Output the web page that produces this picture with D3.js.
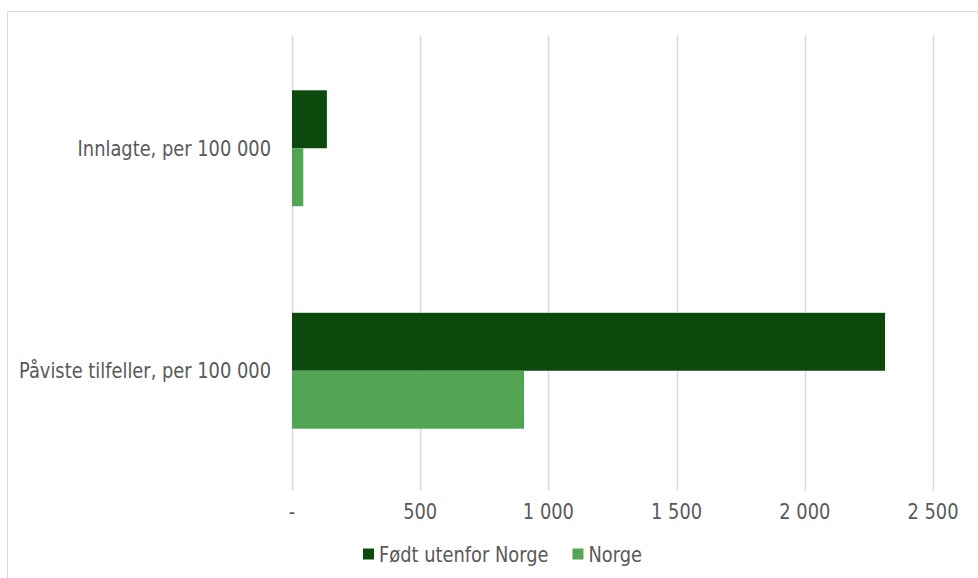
<!DOCTYPE html>
<html>
<head>
<meta charset="utf-8">
<script src="https://cdn.jsdelivr.net/npm/d3@7"></script>
<style>
  body { margin: 0; background: #fff; }
  text { font-family: "DejaVu Sans", Verdana, sans-serif; fill: #595959; }
</style>
</head>
<body>
<div id="chart"></div>
<script>
// Data ---------------------------------------------------------------------------------------
var categories = ["Innlagte, per 100 000", "Påviste tilfeller, per 100 000"];
var series = ["Født utenfor Norge", "Norge"];
var valuesUtenfor = [136, 2313];
var valuesNorge = [44, 905];
var tickValues = [0, 500, 1000, 1500, 2000, 2500];
var colors = ["#0b4a0c", "#52a552"];

// Chart --------------------------------------------------------------------------------------
var width = 978, height = 578;
var fontSize = 21, squeeze = 0.85;

var svg = d3.select("#chart").append("svg")
  .attr("width", width)
  .attr("height", height);

// outer frame of the chart area
svg.append("rect")
  .attr("x", 7.5).attr("y", 11.5)
  .attr("width", 990).attr("height", 600)
  .attr("fill", "none")
  .attr("stroke", "#d9d9d9")
  .attr("stroke-width", 1);

var x = d3.scaleLinear().domain([0, 2500]).range([292, 933]);
var y = d3.scaleBand().domain(categories).range([37, 482]);
var ySub = d3.scaleBand().domain(series).range([0, y.bandwidth()]).paddingOuter(0.92).paddingInner(0);

var fmt = d3.formatLocale({decimal: ",", thousands: " ", grouping: [3], currency: ["", ""]}).format(",");

// gridlines
svg.append("g").selectAll("line")
  .data(tickValues)
  .enter()
  .append("line")
    .attr("x1", function(d){ return Math.round(x(d)) + 0.5; })
    .attr("x2", function(d){ return Math.round(x(d)) + 0.5; })
    .attr("y1", 36)
    .attr("y2", 491)
    .attr("stroke", "#d9d9d9")
    .attr("stroke-width", 1.5);

// bars
var rows = categories.map(function(c, i){
  return [
    {cat: c, s: series[0], v: valuesUtenfor[i], col: colors[0]},
    {cat: c, s: series[1], v: valuesNorge[i], col: colors[1]}
  ];
});

svg.append("g").selectAll("g")
  .data(rows)
  .enter()
  .append("g")
  .attr("transform", function(d){ return "translate(0," + y(d[0].cat) + ")"; })
  .selectAll("rect")
  .data(function(d){ return d; })
  .enter()
  .append("rect")
    .attr("x", x(0))
    .attr("y", function(d){ return ySub(d.s); })
    .attr("width", function(d){ return x(d.v) - x(0); })
    .attr("height", ySub.bandwidth())
    .attr("fill", function(d){ return d.col; });

// squeezed text helper (the original font is narrow)
function label(g, tx, ty, anchor, str) {
  return g.append("text")
    .attr("transform", "translate(" + tx + "," + ty + ") scale(" + squeeze + ",1)")
    .attr("text-anchor", anchor)
    .attr("dy", "0.36em")
    .attr("font-size", fontSize + "px")
    .text(str);
}

// category labels
var catG = svg.append("g");
categories.forEach(function(c){
  label(catG, 271, y(c) + y.bandwidth() / 2, "end", c);
});

// x tick labels
var tickG = svg.append("g");
tickValues.forEach(function(t){
  label(tickG, x(t), 511, "middle", t === 0 ? "-" : fmt(t));
});

// legend
var legG = svg.append("g");
var lx = 363, ly = 554;
series.forEach(function(s, i){
  legG.append("rect")
    .attr("x", lx).attr("y", ly - 5.5)
    .attr("width", 11).attr("height", 11)
    .attr("fill", colors[i]);
  var t = label(legG, lx + 16, ly, "start", s);
  lx += 16 + t.node().getComputedTextLength() * squeeze + 24;
});
</script>
</body>
</html>
